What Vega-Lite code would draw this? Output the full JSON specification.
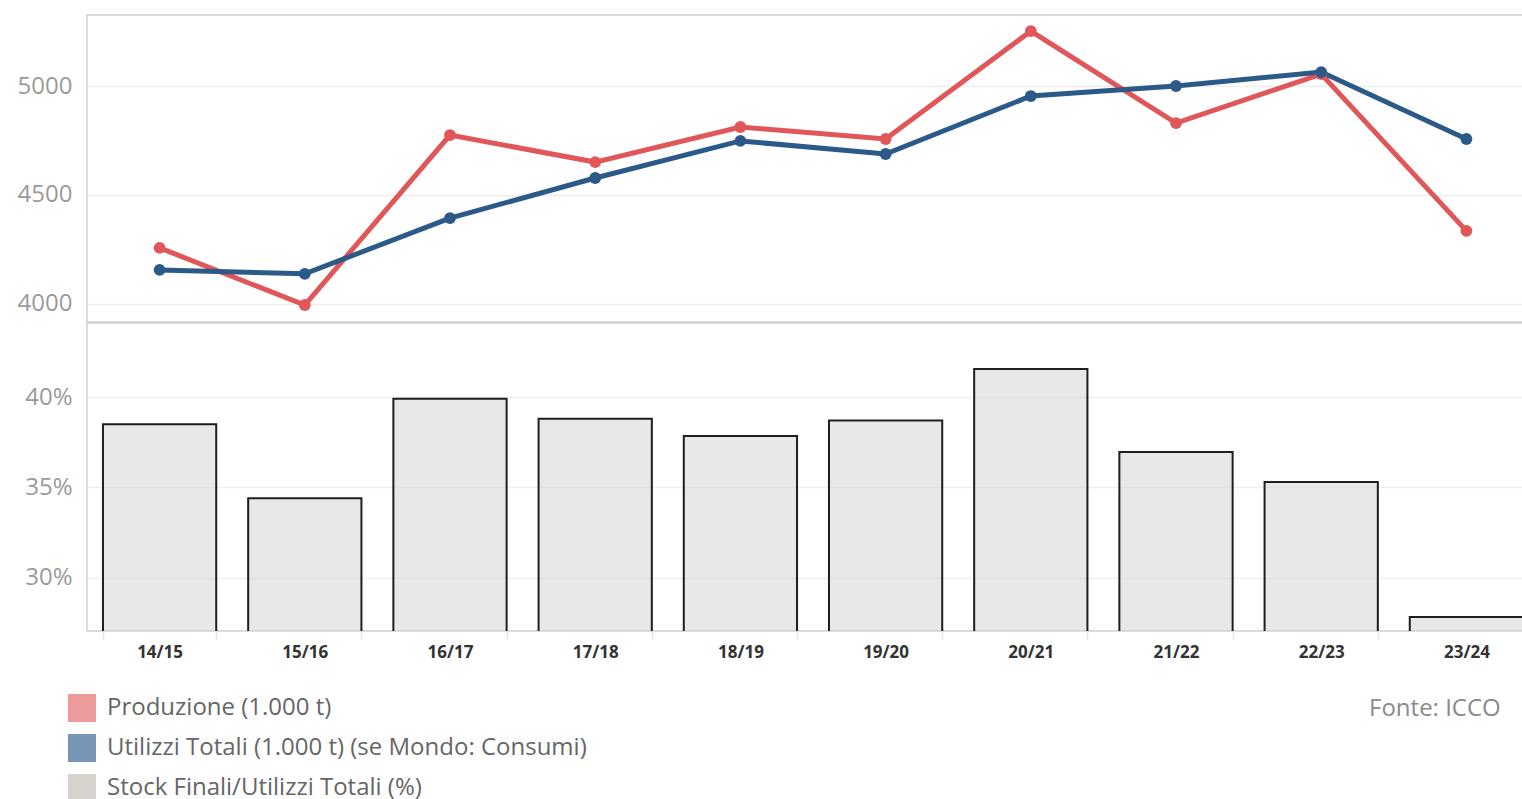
{
  "$schema": "https://vega.github.io/schema/vega-lite/v6.json",
  "padding": {"left": 16, "top": 14, "right": 0, "bottom": 0},
  "background": "white",
  "config": {
    "font": "Open Sans",
    "view": {"stroke": "#cfcfcf", "strokeWidth": 1.5},
    "concat": {"spacing": -4}
  },
  "title": {
    "text": "Fonte: ICCO",
    "orient": "bottom",
    "anchor": "end",
    "font": "Open Sans",
    "fontSize": 24,
    "fontWeight": "normal",
    "color": "#8a8a8a",
    "offset": -105,
    "dx": -39
  },
  "datasets": {
    "linee": [
      {"campagna": "14/15", "serie": "Produzione (1.000 t)", "valore": 4257},
      {"campagna": "15/16", "serie": "Produzione (1.000 t)", "valore": 3995},
      {"campagna": "16/17", "serie": "Produzione (1.000 t)", "valore": 4775},
      {"campagna": "17/18", "serie": "Produzione (1.000 t)", "valore": 4651},
      {"campagna": "18/19", "serie": "Produzione (1.000 t)", "valore": 4812},
      {"campagna": "19/20", "serie": "Produzione (1.000 t)", "valore": 4757},
      {"campagna": "20/21", "serie": "Produzione (1.000 t)", "valore": 5252},
      {"campagna": "21/22", "serie": "Produzione (1.000 t)", "valore": 4830},
      {"campagna": "22/23", "serie": "Produzione (1.000 t)", "valore": 5055},
      {"campagna": "23/24", "serie": "Produzione (1.000 t)", "valore": 4335},
      {"campagna": "14/15", "serie": "Utilizzi Totali (1.000 t) (se Mondo: Consumi)", "valore": 4156},
      {"campagna": "15/16", "serie": "Utilizzi Totali (1.000 t) (se Mondo: Consumi)", "valore": 4138},
      {"campagna": "16/17", "serie": "Utilizzi Totali (1.000 t) (se Mondo: Consumi)", "valore": 4394},
      {"campagna": "17/18", "serie": "Utilizzi Totali (1.000 t) (se Mondo: Consumi)", "valore": 4578},
      {"campagna": "18/19", "serie": "Utilizzi Totali (1.000 t) (se Mondo: Consumi)", "valore": 4748},
      {"campagna": "19/20", "serie": "Utilizzi Totali (1.000 t) (se Mondo: Consumi)", "valore": 4688},
      {"campagna": "20/21", "serie": "Utilizzi Totali (1.000 t) (se Mondo: Consumi)", "valore": 4954},
      {"campagna": "21/22", "serie": "Utilizzi Totali (1.000 t) (se Mondo: Consumi)", "valore": 5000},
      {"campagna": "22/23", "serie": "Utilizzi Totali (1.000 t) (se Mondo: Consumi)", "valore": 5064},
      {"campagna": "23/24", "serie": "Utilizzi Totali (1.000 t) (se Mondo: Consumi)", "valore": 4757}
    ],
    "stock": [
      {"campagna": "14/15", "serie": "Stock Finali/Utilizzi Totali (%)", "pct": 0.385},
      {"campagna": "15/16", "serie": "Stock Finali/Utilizzi Totali (%)", "pct": 0.344},
      {"campagna": "16/17", "serie": "Stock Finali/Utilizzi Totali (%)", "pct": 0.399},
      {"campagna": "17/18", "serie": "Stock Finali/Utilizzi Totali (%)", "pct": 0.388},
      {"campagna": "18/19", "serie": "Stock Finali/Utilizzi Totali (%)", "pct": 0.3785},
      {"campagna": "19/20", "serie": "Stock Finali/Utilizzi Totali (%)", "pct": 0.387},
      {"campagna": "20/21", "serie": "Stock Finali/Utilizzi Totali (%)", "pct": 0.4155},
      {"campagna": "21/22", "serie": "Stock Finali/Utilizzi Totali (%)", "pct": 0.3696},
      {"campagna": "22/23", "serie": "Stock Finali/Utilizzi Totali (%)", "pct": 0.353},
      {"campagna": "23/24", "serie": "Stock Finali/Utilizzi Totali (%)", "pct": 0.2785}
    ]
  },
  "vconcat": [
    {
      "width": 1437,
      "height": 307,
      "data": {"name": "linee"},
      "encoding": {
        "x": {
          "field": "campagna", "type": "ordinal",
          "scale": {"type": "band", "range": [0, 1452], "paddingInner": 0.22, "paddingOuter": 0.11},
          "axis": null
        },
        "y": {
          "field": "valore", "type": "quantitative",
          "scale": {"domain": [3917, 5326], "zero": false, "nice": false},
          "axis": {
            "title": null, "values": [4000, 4500, 5000], "format": "d",
            "domain": false, "ticks": false, "grid": true, "gridColor": "#eeeeee", "gridWidth": 1.5,
            "labelFont": "Open Sans", "labelFontSize": 24, "labelColor": "#9a9a9a", "labelPadding": 15
          }
        },
        "color": {
          "field": "serie", "type": "nominal",
          "scale": {
            "domain": ["Produzione (1.000 t)", "Utilizzi Totali (1.000 t) (se Mondo: Consumi)"],
            "range": ["#e15759", "#2c5a88"]
          },
          "legend": null
        }
      },
      "layer": [
        {"mark": {"type": "line", "strokeWidth": 5}},
        {"mark": {"type": "point", "filled": true, "size": 140, "opacity": 1}}
      ]
    },
    {
      "width": 1437,
      "height": 308,
      "data": {"name": "stock"},
      "mark": {"type": "bar", "clip": true, "stroke": "#1e1e1e", "strokeWidth": 2, "fillOpacity": 0.5},
      "encoding": {
        "x": {
          "field": "campagna", "type": "ordinal",
          "scale": {"type": "band", "range": [0, 1452], "paddingInner": 0.22, "paddingOuter": 0.11},
          "axis": {
            "title": null, "labelAngle": 0, "domain": false, "tickBand": "extent",
            "ticks": true, "tickColor": "#e6e6e6", "tickSize": 8, "tickWidth": 1.5,
            "labelFont": "Open Sans", "labelFontSize": 17, "labelFontWeight": "bold",
            "labelColor": "#333333", "labelPadding": 5
          }
        },
        "y": {
          "field": "pct", "type": "quantitative",
          "scale": {"domain": [0.2707, 0.4409], "zero": false, "nice": false},
          "axis": {
            "title": null, "values": [0.3, 0.35, 0.4], "format": ".0%",
            "domain": false, "ticks": false, "grid": true, "gridColor": "#eeeeee", "gridWidth": 1.5,
            "labelFont": "Open Sans", "labelFontSize": 24, "labelColor": "#9a9a9a", "labelPadding": 15
          }
        },
        "fill": {
          "field": "serie", "type": "nominal",
          "scale": {
            "domain": ["Produzione (1.000 t)", "Utilizzi Totali (1.000 t) (se Mondo: Consumi)", "Stock Finali/Utilizzi Totali (%)"],
            "range": ["#ed9a9b", "#7795b4", "#d6d2ce"]
          },
          "legend": {
            "title": null, "orient": "none", "legendX": -19, "legendY": 679,
            "direction": "vertical", "padding": 0,
            "symbolType": "square", "symbolSize": 784, "symbolOpacity": 1,
            "symbolStrokeWidth": 0,
            "labelFont": "Open Sans", "labelFontSize": 24, "labelColor": "#666666",
            "labelOffset": 11, "rowPadding": 12, "labelLimit": 1000,
            "encode": {"symbols": {"update": {"stroke": {"value": "transparent"}, "strokeWidth": {"value": 0}, "opacity": {"value": 1}}}}
          }
        }
      }
    }
  ]
}
